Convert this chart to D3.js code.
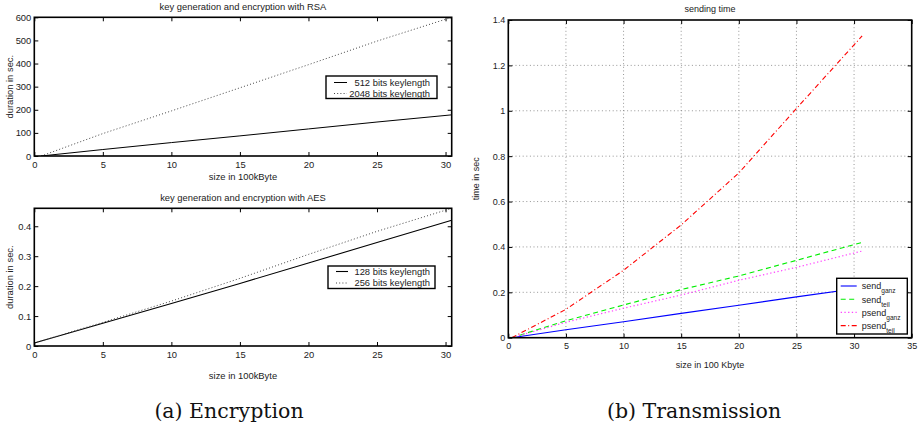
<!DOCTYPE html>
<html><head><meta charset="utf-8">
<script src="https://cdn.jsdelivr.net/npm/d3@7"></script>
<style>body{margin:0;background:#fff} svg{display:block}</style>
</head><body><svg id="c" width="920" height="435"></svg>
<script>
// ---------- data ----------
const rsaSize   = [0.5, 5, 10, 15, 20, 25, 30.45];
const rsa512    = [0, 28, 58, 87, 117, 147, 178];
const rsa2048   = [0, 97, 195, 295, 395, 497, 600];

const aesSize   = [0, 5, 10, 15, 20, 25, 30.45];
const aes128    = [0.01, 0.076, 0.142, 0.209, 0.277, 0.346, 0.42];
const aes256    = [0.01, 0.079, 0.15, 0.226, 0.306, 0.383, 0.46];

const sendSize  = [0.3, 5, 10, 15, 20, 25, 30.7];
const sendGanz  = [0, 0.035, 0.07, 0.107, 0.143, 0.18, 0.22];
const sendTeil  = [0, 0.075, 0.144, 0.212, 0.272, 0.341, 0.42];
const psendGanz = [0, 0.068, 0.13, 0.188, 0.253, 0.31, 0.382];
const psendTeil = [0, 0.125, 0.297, 0.497, 0.726, 1.01, 1.33];

const leftXTicks  = [0, 5, 10, 15, 20, 25, 30];
const rsaYTicks   = [0, 100, 200, 300, 400, 500, 600];
const aesYTicks   = [0, 0.1, 0.2, 0.3, 0.4];
const rightXTicks = [0, 5, 10, 15, 20, 25, 30, 35];
const rightYTicks = [0, 0.2, 0.4, 0.6, 0.8, 1, 1.2, 1.4];

const titles = ["key generation and encryption with RSA", "key generation and encryption with AES", "sending time"];
const captions = ["(a) Encryption", "(b) Transmission"];

// ---------- drawing ----------
const svg = d3.select("#c");
const SANS = "'Liberation Sans', Arial, Helvetica, sans-serif";
const fmt = d => String(+(+d).toFixed(2));

function panel(o) {
  const x = d3.scaleLinear().domain(o.xDomain).range([o.left, o.right]);
  const y = d3.scaleLinear().domain(o.yDomain).range([o.bottom, o.top]);
  const g = svg.append("g");

  if (o.grid) {
    const gg = g.append("g").attr("stroke", "#8a8a8a").attr("stroke-width", 0.9).attr("stroke-dasharray", "1,2.6");
    o.xTicks.filter(t => t > o.xDomain[0] && t < o.xDomain[1]).forEach(t =>
      gg.append("line").attr("x1", x(t)).attr("x2", x(t)).attr("y1", o.top).attr("y2", o.bottom));
    o.yTicks.filter(t => t > o.yDomain[0] && t < o.yDomain[1]).forEach(t =>
      gg.append("line").attr("y1", y(t)).attr("y2", y(t)).attr("x1", o.left).attr("x2", o.right));
  }

  const ts = 4;
  const ax = (gen, tr, labels) => {
    const a = g.append("g").attr("transform", tr).call(gen);
    a.select(".domain").remove();
    a.selectAll(".tick line").attr("stroke", "#000").attr("stroke-width", 1);
    a.selectAll(".tick text").attr("font-family", SANS).attr("font-size", o.fs).attr("fill", "#222");
    if (!labels) a.selectAll(".tick text").remove();
    return a;
  };
  const bx = ax(d3.axisBottom(x).tickValues(o.xTicks).tickFormat(fmt).tickSizeInner(-ts).tickSizeOuter(0).tickPadding(4),
     `translate(0,${o.bottom})`, true);
  bx.selectAll(".tick text").attr("dy", "0.71em").attr("y", 5);
  ax(d3.axisTop(x).tickValues(o.xTicks).tickSizeInner(-ts).tickSizeOuter(0), `translate(0,${o.top})`, false);
  const ly = ax(d3.axisLeft(y).tickValues(o.yTicks).tickFormat(fmt).tickSizeInner(-ts).tickSizeOuter(0),
     `translate(${o.left},0)`, true);
  ly.selectAll(".tick text").attr("x", -3);
  ax(d3.axisRight(y).tickValues(o.yTicks).tickSizeInner(-ts).tickSizeOuter(0), `translate(${o.right},0)`, false);

  const clipId = "clip" + Math.round(o.left) + "_" + Math.round(o.top);
  svg.append("clipPath").attr("id", clipId).append("rect")
    .attr("x", o.left).attr("y", o.top - 2).attr("width", o.right - o.left).attr("height", o.bottom - o.top + 2);

  const line = d3.line().x(d => x(d[0])).y(d => y(d[1]));
  const lg = g.append("g").attr("clip-path", `url(#${clipId})`);
  o.series.forEach(s => {
    lg.append("path").datum(s.xs.map((v, i) => [v, s.ys[i]]))
      .attr("d", line).attr("fill", "none").attr("stroke", s.color)
      .attr("stroke-width", s.w || 1).attr("stroke-dasharray", s.dash || null);
  });

  g.append("rect").attr("x", o.left).attr("y", o.top).attr("width", o.right - o.left).attr("height", o.bottom - o.top)
    .attr("fill", "none").attr("stroke", "#000").attr("stroke-width", 1.6);

  // title & labels
  g.append("text").attr("x", (o.left + o.right) / 2).attr("y", o.titleY).attr("text-anchor", "middle")
    .attr("font-family", SANS).attr("font-size", o.fs).attr("fill", "#222").text(o.title);
  g.append("text").attr("x", (o.left + o.right) / 2).attr("y", o.xLabelY).attr("text-anchor", "middle")
    .attr("font-family", SANS).attr("font-size", o.fs).attr("fill", "#222").text(o.xLabel);
  g.append("text").attr("transform", `translate(${o.yLabelX},${(o.top + o.bottom) / 2}) rotate(-90)`)
    .attr("text-anchor", "middle").attr("font-family", SANS).attr("font-size", o.fs).attr("fill", "#222").text(o.yLabel);

  // legend
  const L = o.legend;
  const lgd = g.append("g");
  lgd.append("rect").attr("x", L.x).attr("y", L.y).attr("width", L.w).attr("height", L.h)
    .attr("fill", "#fff").attr("stroke", "#000").attr("stroke-width", 1.4);
  o.series.forEach((s, i) => {
    const cy = L.y + L.first + i * L.step;
    lgd.append("line").attr("x1", L.x + L.l1).attr("x2", L.x + L.l2).attr("y1", cy).attr("y2", cy)
      .attr("stroke", s.color).attr("stroke-width", s.w || 1).attr("stroke-dasharray", s.dash || null);
    const t = lgd.append("text").attr("font-family", SANS).attr("font-size", o.fs).attr("fill", "#222")
      .attr("y", cy + 3.3);
    if (L.anchorEnd) {
      t.attr("x", L.x + L.w - L.pad).attr("text-anchor", "end").text(s.name);
    } else {
      t.attr("x", L.x + L.tx);
      t.append("tspan").text(s.name);
      t.append("tspan").attr("font-size", 6.6).attr("dy", 4).text(s.sub);
    }
  });
}

panel({
  left: 34.3, right: 451.7, top: 17.3, bottom: 156,
  xDomain: [0, 30.45], yDomain: [0, 600], xTicks: leftXTicks, yTicks: rsaYTicks, fs: 9.4,
  title: titles[0], titleY: 10, xLabel: "size in 100kByte", xLabelY: 179.5,
  yLabel: "duration in sec.", yLabelX: 12.5,
  series: [
    { name: "512 bits keylength", xs: rsaSize, ys: rsa512, color: "#000", w: 1 },
    { name: "2048 bits keylength", xs: rsaSize, ys: rsa2048, color: "#444", w: 1, dash: "1,2.2" }
  ],
  legend: { x: 326, y: 76, w: 111, h: 22.5, first: 6.5, step: 11, l1: 8, l2: 21, anchorEnd: true, pad: 7 }
});

panel({
  left: 34.3, right: 451.7, top: 208.3, bottom: 346,
  xDomain: [0, 30.45], yDomain: [0, 0.46], xTicks: leftXTicks, yTicks: aesYTicks, fs: 9.4,
  title: titles[1], titleY: 200.5, xLabel: "size in 100kByte", xLabelY: 379,
  yLabel: "duration in sec.", yLabelX: 12.5,
  series: [
    { name: "128 bits keylength", xs: aesSize, ys: aes128, color: "#000", w: 1.1 },
    { name: "256 bits keylength", xs: aesSize, ys: aes256, color: "#444", w: 1, dash: "1,2.2" }
  ],
  legend: { x: 328, y: 266, w: 107, h: 22.5, first: 5.5, step: 11.5, l1: 8, l2: 20, anchorEnd: true, pad: 5 }
});

panel({
  left: 508.3, right: 911.7, top: 20, bottom: 337.7,
  xDomain: [0, 35], yDomain: [0, 1.4], xTicks: rightXTicks, yTicks: rightYTicks, fs: 9, grid: true,
  title: titles[2], titleY: 12, xLabel: "size in 100 Kbyte", xLabelY: 367.5,
  yLabel: "time in sec", yLabelX: 479,
  series: [
    { name: "send", sub: "ganz", xs: sendSize, ys: sendGanz, color: "#0000ff", w: 1.1 },
    { name: "send", sub: "teil", xs: sendSize, ys: sendTeil, color: "#00ee00", w: 1.1, dash: "5,3.5" },
    { name: "psend", sub: "ganz", xs: sendSize, ys: psendGanz, color: "#ff44ff", w: 1.2, dash: "1.3,2.4" },
    { name: "psend", sub: "teil", xs: sendSize, ys: psendTeil, color: "#ff0000", w: 1.1, dash: "5,2.5,1,2.5" }
  ],
  legend: { x: 836.7, y: 278.3, w: 70.6, h: 55.7, first: 7.7, step: 13.2, l1: 4, l2: 20, tx: 25 }
});

// captions
const SERIF = "'DejaVu Serif', 'Liberation Serif', serif";
svg.append("text").attr("x", 229).attr("y", 418).attr("text-anchor", "middle")
  .attr("font-family", SERIF).attr("font-size", 20.5).attr("fill", "#111").text(captions[0]);
svg.append("text").attr("x", 694).attr("y", 418).attr("text-anchor", "middle")
  .attr("font-family", SERIF).attr("font-size", 20.5).attr("fill", "#111").text(captions[1]);
</script></body></html>
